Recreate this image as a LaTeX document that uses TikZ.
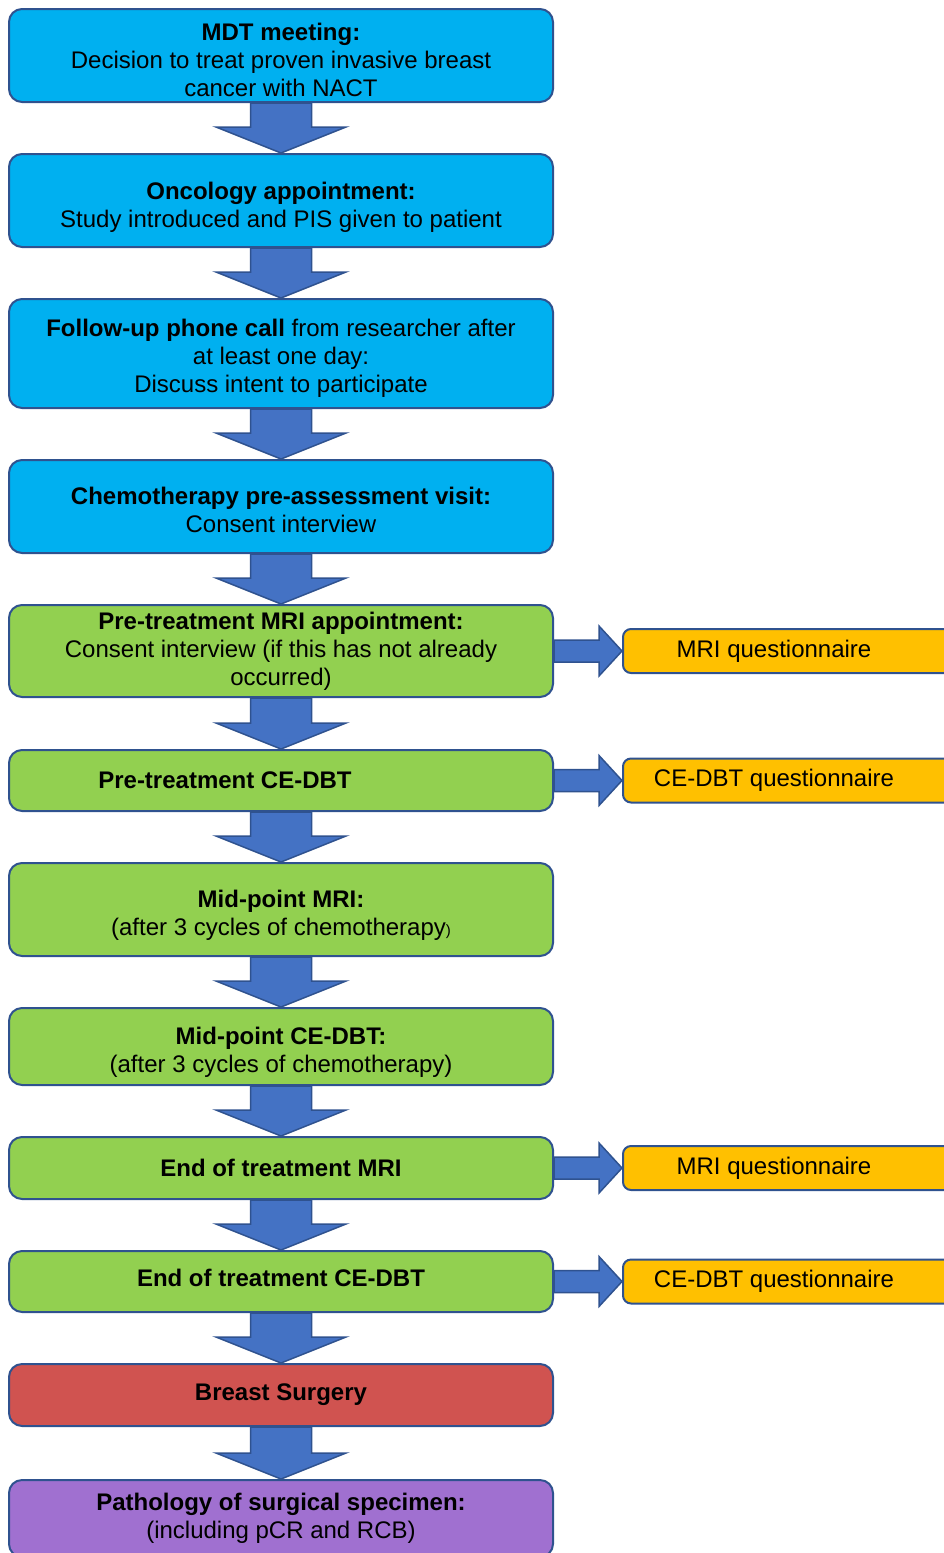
\documentclass[tikz,border=0pt]{standalone}
\usepackage{fontspec}
\setmainfont{Liberation Sans}
\usetikzlibrary{calc,backgrounds}

\definecolor{edgeblue}{HTML}{2F528F}
\definecolor{arrowblue}{HTML}{4472C4}
\definecolor{stageblue}{HTML}{00B0F0}
\definecolor{stagegreen}{HTML}{92D050}
\definecolor{stagered}{HTML}{D05350}
\definecolor{stagepurple}{HTML}{A070D0}
\definecolor{questorange}{HTML}{FFC000}

\tikzset{
  stage/.style={draw=edgeblue, line width=2pt, rounded corners=13pt,
    minimum width=544pt, align=center, inner sep=0pt,
    font=\fontsize{24}{28}\selectfont},
  quest/.style={draw=edgeblue, line width=2pt, rounded corners=8pt,
    fill=questorange, minimum height=44pt, anchor=west, inner sep=0pt,
    font=\fontsize{24}{28}\selectfont},
  bigarrow/.style={fill=arrowblue, draw=edgeblue, line width=1.5pt, line join=miter}
}

\begin{document}
\begin{tikzpicture}[x=1pt, y=-1pt]
\useasboundingbox (0,0) rectangle (944,1553);
\clip (0,0) rectangle (944,1553);

% study pathway
\node[stage, fill=stageblue, minimum height=93pt] (mdt) at (281,55.5)
  {\rule{0pt}{27pt}\textbf{MDT meeting:}\\ Decision to treat proven invasive breast\\ cancer with NACT};
\node[stage, fill=stageblue, minimum height=93pt] (onco) at (281,200.5)
  {\rule{0pt}{31pt}\textbf{Oncology appointment:}\\ Study introduced and PIS given to patient};
\node[stage, fill=stageblue, minimum height=109pt] (call) at (281,353.5)
  {\rule{0pt}{27pt}\textbf{Follow-up phone call} from researcher after\\ at least one day:\\ Discuss intent to participate};
\node[stage, fill=stageblue, minimum height=93pt] (preassess) at (281,506.5)
  {\rule{0pt}{25pt}\textbf{Chemotherapy pre-assessment visit:}\\ Consent interview};
\node[stage, fill=stagegreen, minimum height=92pt] (premri) at (281,651)
  {\textbf{Pre-treatment MRI appointment:}\\ Consent interview (if this has not already\\ occurred)};
\node[stage, fill=stagegreen, minimum height=61pt] (predbt) at (281,780.5)
  {\hspace*{-112pt}\textbf{Pre-treatment CE-DBT}};
\node[stage, fill=stagegreen, minimum height=93pt] (midmri) at (281,909.5)
  {\rule{0pt}{29pt}\textbf{Mid-point MRI:}\\ (after 3 cycles of chemotherapy{\fontsize{15}{15}\selectfont)}};
\node[stage, fill=stagegreen, minimum height=77pt] (middbt) at (281,1046.5)
  {\rule{0pt}{29pt}\textbf{Mid-point CE-DBT:}\\ (after 3 cycles of chemotherapy)};
\node[stage, fill=stagegreen, minimum height=62pt] (endmri) at (281,1168)
  {\textbf{End of treatment MRI}};
\node[stage, fill=stagegreen, minimum height=61pt] (enddbt) at (281,1281.5)
  {\rule[-8pt]{0pt}{8pt}\textbf{End of treatment CE-DBT}};
\node[stage, fill=stagered, minimum height=62pt] (surgery) at (281,1395)
  {\textbf{Breast Surgery}};
\node[stage, fill=stagepurple, minimum height=77pt] (patho) at (281,1518.5)
  {\textbf{Pathology of surgical specimen:}\\ (including pCR and RCB)};

% questionnaires
\node[quest] (q1) at (622,651) {\makebox[368pt][l]{\makebox[302pt]{MRI questionnaire}}};
\node[quest] (q2) at (622,780.5) {\makebox[368pt][l]{\makebox[302pt]{CE-DBT questionnaire}}};
\node[quest] (q3) at (622,1168) {\makebox[368pt][l]{\makebox[302pt]{MRI questionnaire}}};
\node[quest] (q4) at (622,1281.5) {\makebox[368pt][l]{\makebox[302pt]{CE-DBT questionnaire}}};

\begin{scope}[on background layer]
\foreach \a/\b in {mdt/onco, onco/call, call/preassess, preassess/premri,
    premri/predbt, predbt/midmri, midmri/middbt, middbt/endmri,
    endmri/enddbt, enddbt/surgery, surgery/patho}
  \draw[bigarrow] ($(\a.south)+(-30.5,0)$) -- ($(\b.north)+(-30.5,-26)$)
    -- ($(\b.north)+(-65,-26)$) -- (\b.north) -- ($(\b.north)+(65,-26)$)
    -- ($(\b.north)+(30.5,-26)$) -- ($(\a.south)+(30.5,0)$) -- cycle;
\foreach \a/\b in {premri/q1, predbt/q2, endmri/q3, enddbt/q4}
  \draw[bigarrow] ($(\a.east)+(0,-11)$) -- ($(\b.west)+(-23,-11)$)
    -- ($(\b.west)+(-23,-25)$) -- (\b.west) -- ($(\b.west)+(-23,25)$)
    -- ($(\b.west)+(-23,11)$) -- ($(\a.east)+(0,11)$) -- cycle;
\end{scope}

\end{tikzpicture}
\end{document}
